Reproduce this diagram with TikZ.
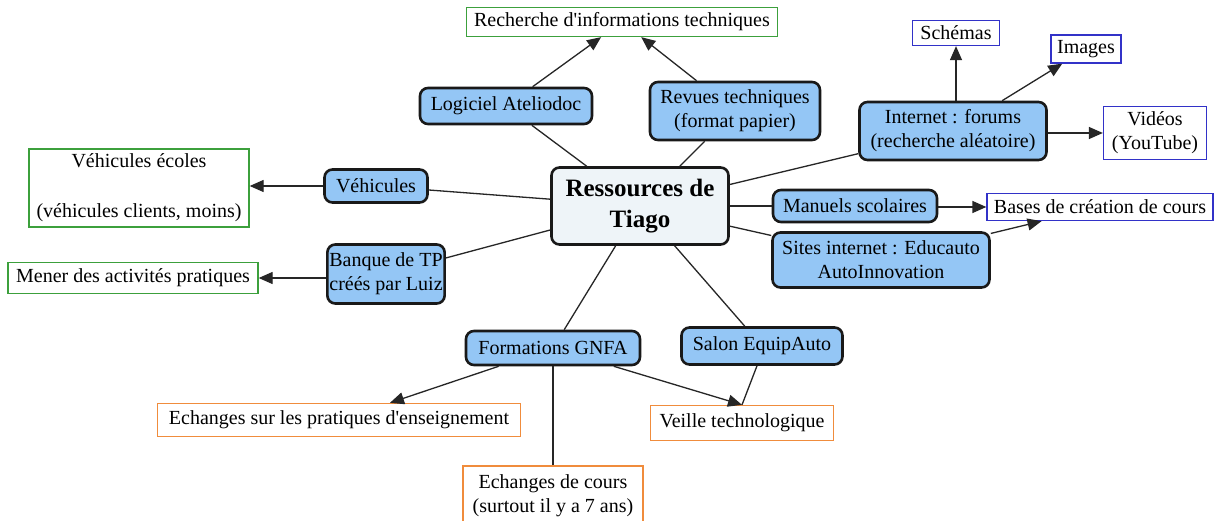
\documentclass[tikz,border=0pt]{standalone}
\usepackage{fontspec}
\setmainfont{Liberation Serif}[Ligatures=TeXOff]
\usetikzlibrary{arrows.meta}
\definecolor{resblue}{RGB}{148,198,245}
\definecolor{cfill}{RGB}{238,244,248}
\definecolor{lgreen}{RGB}{60,160,60}
\definecolor{lblue}{RGB}{50,50,200}
\definecolor{lorange}{RGB}{240,140,60}
\begin{document}
\begin{tikzpicture}[x=1pt,y=-1pt,
  res/.style={draw=black!90, line width=2.6pt, rounded corners=8pt, fill=resblue, align=center,
    font=\fontsize{20}{24}\selectfont, inner sep=2pt},
  hub/.style={res, fill=cfill, font=\fontsize{25}{31}\selectfont\bfseries},
  leaf/.style={line width=1.3pt, fill=white, align=center, font=\fontsize{20}{24}\selectfont, inner sep=2pt},
  leafg/.style={leaf, draw=lgreen},
  leafb/.style={leaf, draw=lblue},
  leafo/.style={leaf, draw=lorange},
  conn/.style={line width=1.3pt, draw=black!85},
  arr/.style={conn, -{Triangle[length=14pt,width=12pt]}}]
\useasboundingbox[fill=white] (0,0) rectangle (1218,521);

\node[hub, minimum width=177, minimum height=77] (c) at (640,206) {Ressources de\\Tiago};

\node[leafg, minimum width=311, minimum height=29] (rech) at (622,22) {Recherche d'informations techniques};
\node[res, minimum width=172, minimum height=36] (logi) at (506,106) {Logiciel Ateliodoc};
\node[res, minimum width=170, minimum height=58] (rev) at (735,111) {Revues techniques\\(format papier)};

\node[res, minimum width=187, minimum height=58] (inet) at (953,131) {Internet : forums\\(recherche aléatoire)};
\node[leafb, minimum width=87, minimum height=25] (sch) at (956,33) {Schémas};
\node[leafb, minimum width=70, minimum height=28] (img) at (1086,49) {Images};
\node[leafb, minimum width=103, minimum height=53] (vid) at (1155,133) {Vidéos\\(YouTube)};

\node[res, minimum width=164, minimum height=32] (man) at (855,206) {Manuels scolaires};
\node[leafb, minimum width=226, minimum height=27] (bases) at (1100,207) {Bases de création de cours};
\node[res, minimum width=217, minimum height=55] (sites) at (881,260) {Sites internet : Educauto\\AutoInnovation};

\node[res, minimum width=103, minimum height=33] (veh) at (376,186) {Véhicules};
\node[leafg, minimum width=220, minimum height=78] (vehe) at (139,188) {Véhicules écoles\\[26pt](véhicules clients, moins)};
\node[res, minimum width=110, minimum height=59] (banq) at (386,274) {Banque de TP\\créés par Luiz};
\node[leafg, minimum width=250, minimum height=31] (mener) at (133,278) {Mener des activités pratiques};

\node[res, minimum width=174, minimum height=34] (gnfa) at (553,348) {Formations GNFA};
\node[res, minimum width=161, minimum height=37] (salon) at (762,346) {Salon EquipAuto};
\node[leafo, minimum width=363, minimum height=33] (echp) at (339,420) {Echanges sur les pratiques d'enseignement};
\node[leafo, minimum width=183, minimum height=35] (veil) at (742,423) {Veille technologique};
\node[leafo, minimum width=180, minimum height=60] (echc) at (553,496) {Echanges de cours\\(surtout il y a 7 ans)};

% hub links
\draw[conn] (c) -- (logi);
\draw[conn] (c) -- (rev);
\draw[conn] (c) -- (inet);
\draw[conn] (c) -- (man);
\draw[conn] (c) -- (sites);
\draw[conn] (c) -- (veh);
\draw[conn] (c) -- (banq);
\draw[conn] (c) -- (gnfa);
\draw[conn] (c) -- (salon);

% arrows
\draw[arr] (logi) -- (rech);
\draw[arr] (rev) -- (rech);
\draw[arr] (inet.north -| sch.south) -- (sch.south);
\draw[arr] (inet) -- (img);
\draw[arr] (inet.east |- vid.west) -- (vid.west);
\draw[arr] (man.east |- bases.west) -- (bases.west);
\draw[arr] (sites) -- (bases);
\draw[arr] (veh.west) -- (vehe.east |- veh.west);
\draw[arr] (banq.west |- mener.east) -- (mener.east);
\draw[arr] (gnfa) -- (echp);
\draw[arr] (gnfa) -- (veil.north);
\draw[conn] ([xshift=-5pt]salon.south) -- (veil.north);
\draw[conn] (gnfa.south) -- (echc.north);
\end{tikzpicture}
\end{document}
